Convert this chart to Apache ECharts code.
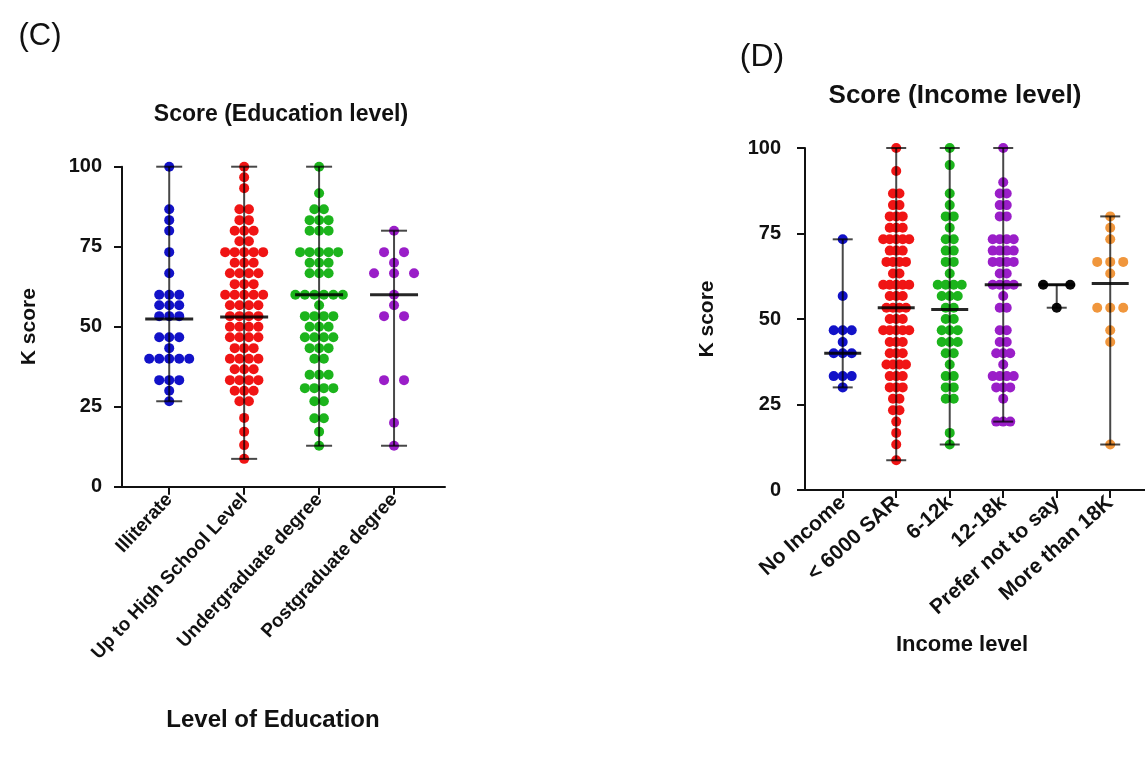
<!DOCTYPE html>
<html>
<head>
    <meta charset="utf-8">
    <title>K score</title>
    <script type="text/javascript" src="https://cdn.jsdelivr.net/npm/echarts@6/dist/echarts.min.js"></script>
</head>
<body style="margin:0;background:#fff;">
<div id="main" style="width:1145px;height:762px;"></div>
<script type="text/javascript">
    // panel C - education
    var eduCats = ['Illiterate', 'Up to High School Level', 'Undergraduate degree', 'Postgraduate degree'];
    var eduIlliterate = [100, 86.7, 83.3, 80, 73.3, 66.7, 60, 60, 60, 56.7, 56.7, 56.7, 53.3, 53.3, 53.3,
        46.7, 46.7, 46.7, 43.3, 40, 40, 40, 40, 40, 33.3, 33.3, 33.3, 30, 26.7];
    var eduHighSchool = [100, 96.7, 93.3, 86.7, 86.7, 83.3, 83.3, 80, 80, 80, 76.7, 76.7,
        73.3, 73.3, 73.3, 73.3, 73.3, 70, 70, 70, 66.7, 66.7, 66.7, 66.7, 63.3, 63.3, 63.3,
        60, 60, 60, 60, 60, 56.7, 56.7, 56.7, 56.7, 53.3, 53.3, 53.3, 53.3, 50, 50, 50, 50,
        46.7, 46.7, 46.7, 46.7, 43.3, 43.3, 43.3, 40, 40, 40, 40, 36.7, 36.7, 36.7,
        33.3, 33.3, 33.3, 33.3, 30, 30, 30, 26.7, 26.7, 21.5, 17.2, 13, 8.7];
    var eduUndergrad = [100, 91.7, 86.7, 86.7, 83.3, 83.3, 83.3, 80, 80, 80, 73.3, 73.3, 73.3, 73.3, 73.3,
        70, 70, 70, 66.7, 66.7, 66.7, 60, 60, 60, 60, 60, 60, 56.7, 53.3, 53.3, 53.3, 53.3,
        50, 50, 50, 46.7, 46.7, 46.7, 46.7, 43.3, 43.3, 43.3, 40, 40, 35, 35, 35,
        30.8, 30.8, 30.8, 30.8, 26.7, 26.7, 21.4, 21.4, 17.2, 12.8];
    var eduPostgrad = [80, 73.3, 73.3, 70, 66.7, 66.7, 66.7, 60, 56.7, 53.3, 53.3, 33.3, 33.3, 20, 12.8];
    var eduMedians = [52.4, 53, 60, 60];

    // panel D - income
    var incCats = ['No Income', '< 6000 SAR', '6-12k', '12-18k', 'Prefer not to say', 'More than 18K'];
    var incNone = [73.3, 56.7, 46.7, 46.7, 46.7, 43.3, 40, 40, 40, 33.3, 33.3, 33.3, 30];
    var incUnder6000 = [100, 93.3, 86.7, 86.7, 83.3, 83.3, 80, 80, 80, 76.7, 76.7, 76.7,
        73.3, 73.3, 73.3, 73.3, 73.3, 70, 70, 70, 66.7, 66.7, 66.7, 66.7, 63.3, 63.3,
        60, 60, 60, 60, 60, 56.7, 56.7, 56.7, 53.3, 53.3, 53.3, 53.3, 50, 50, 50,
        46.7, 46.7, 46.7, 46.7, 46.7, 43.3, 43.3, 43.3, 40, 40, 40, 36.7, 36.7, 36.7, 36.7,
        33.3, 33.3, 33.3, 30, 30, 30, 26.7, 26.7, 23.3, 23.3, 20, 16.7, 13.3, 8.7];
    var inc6to12 = [100, 95, 86.7, 83.3, 80, 80, 76.7, 73.3, 73.3, 70, 70, 66.7, 66.7, 63.3,
        60, 60, 60, 60, 56.7, 56.7, 56.7, 53.3, 53.3, 50, 50, 46.7, 46.7, 46.7, 43.3, 43.3, 43.3,
        40, 40, 36.7, 33.3, 33.3, 30, 30, 26.7, 26.7, 16.7, 13.3];
    var inc12to18 = [100, 90, 86.7, 86.7, 83.3, 83.3, 80, 80, 73.3, 73.3, 73.3, 73.3,
        70, 70, 70, 70, 66.7, 66.7, 66.7, 66.7, 63.3, 63.3, 60, 60, 60, 60, 56.7, 53.3, 53.3,
        46.7, 46.7, 43.3, 43.3, 40, 40, 40, 36.7, 33.3, 33.3, 33.3, 33.3, 30, 30, 30, 26.7, 20, 20, 20];
    var incPreferNot = [60, 60, 53.3];
    var incOver18k = [80, 76.7, 73.3, 66.7, 66.7, 66.7, 63.3, 53.3, 53.3, 53.3, 46.7, 43.3, 13.3];
    var incMedians = [40, 53.3, 52.8, 60, 60, 60.4];

    var FONT = "'Liberation Sans', Arial, sans-serif";

    // spread equal values side by side (beeswarm-ish)
    function swarm(vals, cat, spacing) {
        var counts = {}, seen = {};
        vals.forEach(function (v) { counts[v] = (counts[v] || 0) + 1; });
        return vals.map(function (v) {
            seen[v] = seen[v] === undefined ? 0 : seen[v] + 1;
            var dx = (seen[v] - (counts[v] - 1) / 2) * spacing;
            return {value: [cat, v], symbolOffset: [dx, 0]};
        });
    }

    function dots(vals, cat, color, spacing, idx) {
        return {
            type: 'scatter',
            xAxisIndex: idx,
            yAxisIndex: idx,
            symbol: 'circle',
            symbolSize: 10,
            itemStyle: {color: color, opacity: 1},
            data: swarm(vals, cat, spacing),
            silent: true,
            z: 2
        };
    }

    function whiskers(groups, medians, idx, capW, medW) {
        var data = groups.map(function (g, i) {
            return [i, Math.min.apply(null, g), Math.max.apply(null, g), medians[i]];
        });
        return {
            type: 'custom',
            xAxisIndex: idx,
            yAxisIndex: idx,
            silent: true,
            z: 5,
            data: data,
            encode: {x: 0, y: [1, 2, 3]},
            renderItem: function (params, api) {
                var x = api.value(0);
                var lo = api.coord([x, api.value(1)]);
                var hi = api.coord([x, api.value(2)]);
                var md = api.coord([x, api.value(3)]);
                var ls = {stroke: 'rgba(0,0,0,0.72)', lineWidth: 2};
                return {
                    type: 'group',
                    children: [
                        {type: 'line', shape: {x1: lo[0], y1: lo[1], x2: hi[0], y2: hi[1]}, style: ls},
                        {type: 'line', shape: {x1: lo[0] - capW / 2, y1: lo[1], x2: lo[0] + capW / 2, y2: lo[1]}, style: ls},
                        {type: 'line', shape: {x1: hi[0] - capW / 2, y1: hi[1], x2: hi[0] + capW / 2, y2: hi[1]}, style: ls},
                        {type: 'line', shape: {x1: md[0] - medW / 2, y1: md[1], x2: md[0] + medW / 2, y2: md[1]},
                            style: {stroke: 'rgba(0,0,0,0.85)', lineWidth: 3}}
                    ]
                };
            }
        };
    }

    function xAxisFor(cats, idx, min, max, rotate, size) {
        var ticks = cats.map(function (c, i) { return i; });
        return {
            type: 'value',
            gridIndex: idx,
            min: min,
            max: max,
            splitLine: {show: false},
            axisLine: {show: true, onZero: false, lineStyle: {color: '#111', width: 2}},
            axisTick: {show: true, customValues: ticks, length: 8, lineStyle: {color: '#111', width: 2}},
            axisLabel: {
                customValues: ticks,
                rotate: rotate,
                margin: 10,
                fontFamily: FONT,
                fontWeight: 'bold',
                fontSize: size,
                color: '#111',
                formatter: function (v) { return cats[v]; }
            }
        };
    }

    function yAxisFor(idx, gap, size, margin) {
        return {
            type: 'value',
            gridIndex: idx,
            min: 0,
            max: 100,
            interval: 25,
            name: 'K score',
            nameLocation: 'middle',
            nameRotate: 90,
            nameGap: gap,
            nameTextStyle: {fontFamily: FONT, fontWeight: 'bold', fontSize: 21, color: '#111'},
            splitLine: {show: false},
            axisLine: {show: true, onZero: false, lineStyle: {color: '#111', width: 2}},
            axisTick: {show: true, length: 8, lineStyle: {color: '#111', width: 2}},
            axisLabel: {fontFamily: FONT, fontWeight: 'bold', fontSize: size, color: '#111', margin: margin}
        };
    }

    function label(text, x, y, size, weight) {
        return {
            type: 'text',
            x: x,
            y: y,
            style: {
                text: text,
                fill: '#111',
                font: weight + ' ' + size + 'px ' + FONT,
                textAlign: 'center',
                textVerticalAlign: 'middle'
            }
        };
    }

    var chart = echarts.init(document.getElementById('main'));
    var option = {
        backgroundColor: '#fff',
        animation: false,
        grid: [
            {left: 122, top: 166.7, width: 323, height: 320},
            {left: 805, top: 148, width: 340, height: 342}
        ],
        xAxis: [
            xAxisFor(eduCats, 0, -0.63, 3.68, 47, 19),
            xAxisFor(incCats, 1, -0.705, 5.65, 42, 21)
        ],
        yAxis: [yAxisFor(0, 82, 20, 20), yAxisFor(1, 87, 20, 24)],
        graphic: [
            label('(C)', 40, 36, 31, 'normal'),
            label('(D)', 762, 57, 32, 'normal'),
            label('Score (Education level)', 281, 115, 23, 'bold'),
            label('Score (Income level)', 955, 96, 26, 'bold'),
            label('Level of Education', 273, 720, 24, 'bold'),
            label('Income level', 962, 645, 22, 'bold')
        ],
        series: [
            dots(eduIlliterate, 0, '#1212c8', 10, 0),
            dots(eduHighSchool, 1, '#f01414', 9.5, 0),
            dots(eduUndergrad, 2, '#1cb41c', 9.5, 0),
            dots(eduPostgrad, 3, '#9a1ec8', 20, 0),
            whiskers([eduIlliterate, eduHighSchool, eduUndergrad, eduPostgrad], eduMedians, 0, 26, 48),

            dots(incNone, 0, '#1212c8', 9, 1),
            dots(incUnder6000, 1, '#f01414', 6.5, 1),
            dots(inc6to12, 2, '#1cb41c', 8, 1),
            dots(inc12to18, 3, '#9a1ec8', 7, 1),
            dots(incPreferNot, 4, '#0a0a0a', 27, 1),
            dots(incOver18k, 5, '#f0963c', 13, 1),
            whiskers([incNone, incUnder6000, inc6to12, inc12to18, incPreferNot, incOver18k], incMedians, 1, 20, 37)
        ]
    };
    chart.setOption(option);
</script>
</body>
</html>
